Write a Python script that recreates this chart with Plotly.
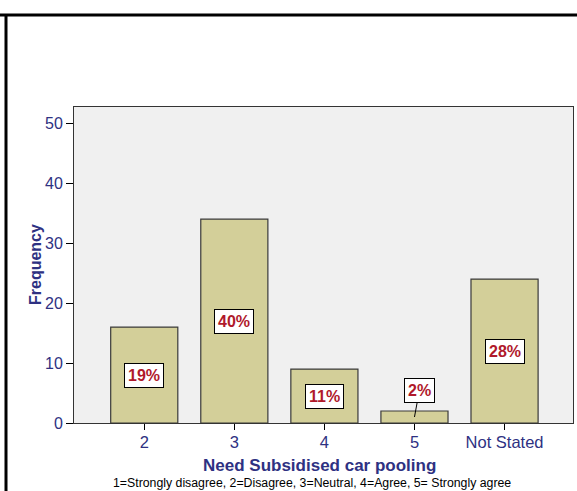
import plotly.graph_objects as go

categories = ["2", "3", "4", "5", "Not Stated"]
frequency = [16, 34, 9, 2, 24]
percent_labels = ["19%", "40%", "11%", "2%", "28%"]
y_ticks = [0, 10, 20, 30, 40, 50]

NAVY = "#2E3182"
RED = "#B0192B"
FONT = "Arial, Liberation Sans, sans-serif"

W, H = 577, 491
L, R, T, B = 74, 4, 107, 68
pw, ph = W - L - R, H - T - B

fig = go.Figure()
fig.add_trace(go.Bar(
    x=list(range(len(categories))),
    y=frequency,
    width=0.745,
    marker=dict(color="#D3CF99", line=dict(color="#3A3A3A", width=1.2)),
    hoverinfo="skip",
))

annotations = []
for i, (v, lab) in enumerate(zip(frequency, percent_labels)):
    common = dict(
        xref="x", yref="y", text=f"<b>{lab}</b>",
        font=dict(family=FONT, size=16, color=RED),
        bgcolor="white", bordercolor="black", borderwidth=1, borderpad=3,
    )
    if v >= 5:
        annotations.append(dict(x=i, y=v / 2, showarrow=False, **common))
    else:
        annotations.append(dict(
            x=i, y=v / 2, showarrow=True, arrowhead=0, arrowwidth=1,
            arrowcolor="black", ax=5, ay=-27, standoff=0, **common,
        ))

annotations.append(dict(
    x=(319 - L) / pw, y=(H - B - 465) / ph, xref="paper", yref="paper",
    text="<b>Need Subsidised car pooling</b>", showarrow=False,
    font=dict(family=FONT, size=17, color=NAVY), xanchor="center", yanchor="middle",
))
annotations.append(dict(
    x=(312 - L) / pw, y=(H - B - 483) / ph, xref="paper", yref="paper",
    text="1=Strongly disagree, 2=Disagree, 3=Neutral, 4=Agree, 5= Strongly agree",
    showarrow=False, font=dict(family=FONT, size=12.3, color="black"),
    xanchor="center", yanchor="middle",
))
annotations.append(dict(
    x=(35 - L) / pw, y=0.5, xref="paper", yref="paper",
    text="<b>Frequency</b>", showarrow=False, textangle=-90,
    font=dict(family=FONT, size=16, color=NAVY), xanchor="center", yanchor="middle",
))

shapes = [
    dict(type="line", xref="paper", yref="paper",
         x0=(0 - L) / pw, x1=(W - L) / pw,
         y0=(H - B - 15) / ph, y1=(H - B - 15) / ph,
         line=dict(color="black", width=3)),
    dict(type="line", xref="paper", yref="paper",
         x0=(6 - L) / pw, x1=(6 - L) / pw,
         y0=(H - B - 14) / ph, y1=(H - B - 495) / ph,
         line=dict(color="black", width=3)),
]

fig.update_layout(
    width=W, height=H,
    margin=dict(l=L, r=R, t=T, b=B, pad=0),
    paper_bgcolor="white", plot_bgcolor="#F0F0F0",
    showlegend=False,
    annotations=annotations, shapes=shapes,
    font=dict(family=FONT),
    xaxis=dict(
        range=[-0.78, 4.76], tickmode="array",
        tickvals=list(range(len(categories))), ticktext=categories,
        ticks="outside", ticklen=6, tickcolor="black",
        tickfont=dict(family=FONT, size=16.5, color=NAVY),
        ticklabelstandoff=-2,
        showline=True, linecolor="#333333", linewidth=1, mirror=True,
        showgrid=False, zeroline=False, fixedrange=True,
    ),
    yaxis=dict(
        range=[0, 52.7], tickmode="array", tickvals=y_ticks,
        ticks="outside", ticklen=7, tickcolor="black",
        tickfont=dict(family=FONT, size=16, color=NAVY),
        showline=True, linecolor="#333333", linewidth=1, mirror=True,
        showgrid=False, zeroline=False, fixedrange=True,
    ),
)

fig.write_html("out.html", config={"displayModeBar": False},
               post_script="document.body.style.margin='0';document.body.style.overflow='hidden';")
